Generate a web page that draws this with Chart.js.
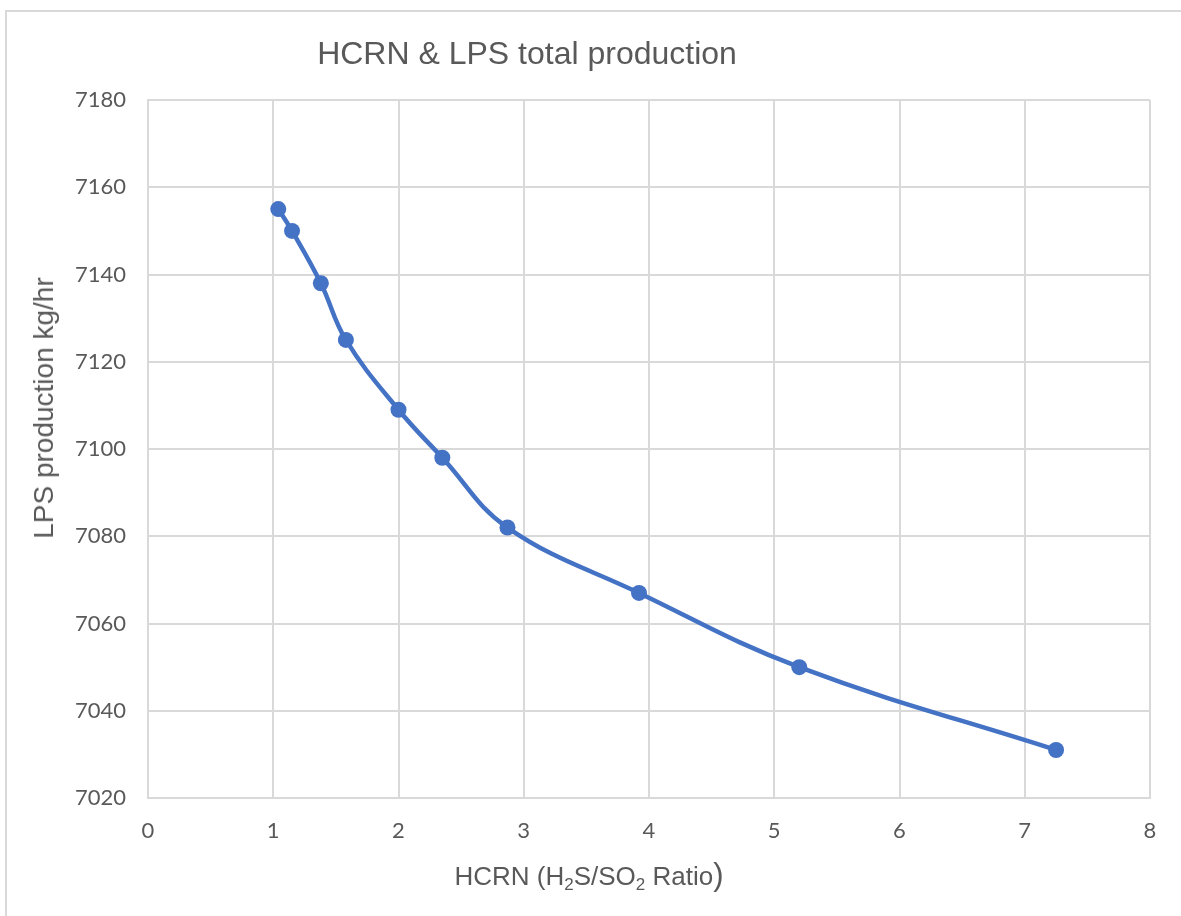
<!DOCTYPE html>
<html>
<head>
<meta charset="utf-8">
<script src="https://cdn.jsdelivr.net/npm/chart.js@4/dist/chart.umd.min.js"></script>
<style>
  html, body { margin: 0; padding: 0; background: #fff; }
  #wrap { position: relative; width: 1181px; height: 916px; overflow: hidden; }
  #frame { position: absolute; left: 5px; top: 10px; width: 1300px; height: 1000px;
           border-left: 2px solid #d9d9d9; border-top: 2px solid #d9d9d9; box-sizing: border-box; }
  #cv { position: absolute; left: 0; top: 0; }
  .t { position: absolute; color: #595959; white-space: nowrap; font-family: "Liberation Sans", Arial, sans-serif; }
  #title { font-size: 32px; left: 527px; top: 53px; transform: translate(-50%, -50%); }
  #xtitle { font-size: 26px; left: 589px; top: 875px; transform: translate(-50%, -50%); }
  #xtitle sub { font-size: 17px; vertical-align: -5px; line-height: 0; }
  #xtitle .p { font-size: 31px; }
  #ytitle { font-size: 28px; left: 44px; top: 408px; transform: translate(-50%, -50%) rotate(-90deg); }
</style>
</head>
<body>
<div id="wrap">
  <div id="frame"></div>
  <canvas id="cv" width="1181" height="916"></canvas>
  <div class="t" id="title">HCRN &amp; LPS total production</div>
  <div class="t" id="ytitle">LPS production kg/hr</div>
  <div class="t" id="xtitle">HCRN (H<sub>2</sub>S/SO<sub>2</sub> Ratio<span class="p">)</span></div>
</div>
<script>
const ratioHCRN = [1.04, 1.15, 1.38, 1.58, 2.0, 2.35, 2.87, 3.92, 5.2, 7.25];
const lpsProduction = [7155, 7150, 7138, 7125, 7109, 7098, 7082, 7067, 7050, 7031];
const xTicks = [0, 1, 2, 3, 4, 5, 6, 7, 8];
const yTicks = [7020, 7040, 7060, 7080, 7100, 7120, 7140, 7160, 7180];

const points = ratioHCRN.map((x, i) => ({ x: x, y: lpsProduction[i] }));
const tickFont = { family: "Lato, 'Open Sans', sans-serif", size: 22 };

new Chart(document.getElementById('cv'), {
  type: 'scatter',
  data: {
    datasets: [{
      data: points,
      showLine: true,
      borderColor: '#4472C4',
      backgroundColor: '#4472C4',
      borderWidth: 4.5,
      pointRadius: 8,
      pointHoverRadius: 8,
      pointBorderWidth: 0,
      tension: 0.4
    }]
  },
  options: {
    responsive: false,
    animation: false,
    devicePixelRatio: 1,
    layout: { padding: { top: 100, right: 31, left: 0, bottom: 0 } },
    plugins: { legend: { display: false }, tooltip: { enabled: false }, title: { display: false } },
    scales: {
      x: {
        type: 'linear',
        min: xTicks[0], max: xTicks[xTicks.length - 1],
        afterBuildTicks: s => { s.ticks = xTicks.map(v => ({ value: v })); },
        afterFit: s => { s.height = 118; },
        ticks: { color: '#595959', font: tickFont, padding: 20, maxRotation: 0, callback: v => String(v) },
        grid: { color: '#d9d9d9', lineWidth: 2, drawTicks: false },
        border: { color: '#d9d9d9', width: 2 }
      },
      y: {
        type: 'linear',
        min: yTicks[0], max: yTicks[yTicks.length - 1],
        afterBuildTicks: s => { s.ticks = yTicks.map(v => ({ value: v })); },
        afterFit: s => { s.width = 148; },
        ticks: { color: '#595959', font: tickFont, padding: 22, callback: v => String(v) },
        grid: { color: '#d9d9d9', lineWidth: 2, drawTicks: false },
        border: { color: '#d9d9d9', width: 2 }
      }
    }
  }
});
</script>
</body>
</html>
